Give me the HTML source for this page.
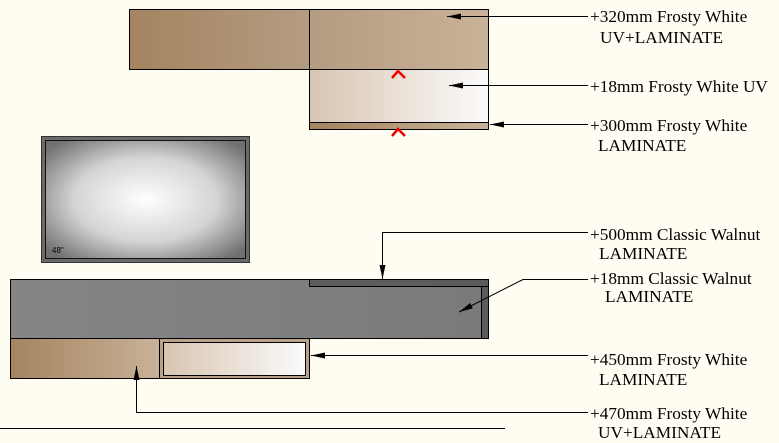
<!DOCTYPE html>
<html><head><meta charset="utf-8"><style>
body{margin:0;background:#fffcf2;}
svg{display:block}
text{font-family:"Liberation Serif",serif;font-size:17.3px;fill:#000}
</style></head><body>
<svg width="779" height="443" viewBox="0 0 779 443" xmlns="http://www.w3.org/2000/svg">
<defs>
<linearGradient id="wal" x1="0" x2="1" y1="0" y2="0"><stop offset="0" stop-color="#a5845f"/><stop offset="1" stop-color="#c8b298"/></linearGradient>
<linearGradient id="wal1" x1="0" x2="1"><stop offset="0" stop-color="#a5845f"/><stop offset="1" stop-color="#b49c82"/></linearGradient>
<linearGradient id="wal2" x1="0" x2="1"><stop offset="0" stop-color="#b49c82"/><stop offset="1" stop-color="#c8b298"/></linearGradient>
<linearGradient id="wht" x1="0" x2="1"><stop offset="0" stop-color="#d8c5b1"/><stop offset="1" stop-color="#fbfbfb"/></linearGradient>
<linearGradient id="gry" x1="0" x2="1"><stop offset="0" stop-color="#858585"/><stop offset="1" stop-color="#7a7a7a"/></linearGradient>
<radialGradient id="tv" cx="0.5" cy="0.5" r="0.65"><stop offset="0" stop-color="#ffffff"/><stop offset="0.55" stop-color="#d4d4d4"/><stop offset="1" stop-color="#707070"/></radialGradient>
<marker id="ar" markerWidth="16" markerHeight="8" refX="14" refY="4" orient="auto" markerUnits="userSpaceOnUse"><path d="M0,1 L14,4 L0,7 Z" fill="#000"/></marker>
</defs>
<rect x="129.5" y="9.5" width="180" height="60" fill="url(#wal1)" stroke="#000"/>
<rect x="309.5" y="9.5" width="179" height="60" fill="url(#wal2)" stroke="#000"/>
<rect x="309.5" y="69.5" width="179" height="53" fill="url(#wht)" stroke="#000"/>
<rect x="309.5" y="122.5" width="179" height="7" fill="url(#wal)" stroke="#000"/>
<path d="M392,78 L398,71 L405,78" stroke="#e00" stroke-width="2.5" fill="none"/>
<path d="M392,136 L398,129 L405,136" stroke="#e00" stroke-width="2.5" fill="none"/>
<rect x="41.5" y="136.5" width="208" height="126" fill="#6a6a6a" stroke="#333"/>
<rect x="45.5" y="140.5" width="200" height="118" fill="url(#tv)" stroke="#111"/>
<text x="52" y="253" style="font-family:'Liberation Sans',sans-serif;font-size:8px">48"</text>
<rect x="10.5" y="279.5" width="478" height="59" fill="url(#gry)" stroke="#000"/>
<rect x="309.5" y="279.5" width="179" height="7" fill="#5c5c5c" stroke="#000"/>
<rect x="481.5" y="286.5" width="7" height="52" fill="#5c5c5c" stroke="#000"/>
<rect x="10.5" y="338.5" width="149" height="40" fill="url(#wal)" stroke="#000"/>
<rect x="159.5" y="338.5" width="150" height="40" fill="#b9a288" stroke="#000"/>
<rect x="163.5" y="342.5" width="142" height="33" fill="url(#wht)" stroke="#000"/>
<line x1="0" y1="428.5" x2="505" y2="428.5" stroke="#000"/>
<g stroke="#000" stroke-width="1" fill="none">
<line x1="588" y1="16.5" x2="447" y2="16.5" marker-end="url(#ar)"/>
<line x1="588" y1="85.5" x2="449" y2="85.5" marker-end="url(#ar)"/>
<line x1="588" y1="124.5" x2="490" y2="124.5" marker-end="url(#ar)"/>
<polyline points="588,232.5 382.5,232.5 382.5,279" marker-end="url(#ar)"/>
<polyline points="588,279.5 523,279.5 459,312" marker-end="url(#ar)"/>
<line x1="588" y1="355.5" x2="311" y2="355.5" marker-end="url(#ar)"/>
<polyline points="588,412.5 136.5,412.5 136.5,366" marker-end="url(#ar)"/>
</g>
<text x="590" y="22">+320mm Frosty White</text>
<text x="600" y="43">UV+LAMINATE</text>
<text x="590" y="92">+18mm Frosty White UV</text>
<text x="590" y="131">+300mm Frosty White</text>
<text x="598" y="151">LAMINATE</text>
<text x="590" y="240">+500mm Classic Walnut</text>
<text x="599" y="259">LAMINATE</text>
<text x="590" y="284">+18mm Classic Walnut</text>
<text x="605" y="302">LAMINATE</text>
<text x="590" y="365">+450mm Frosty White</text>
<text x="599" y="385">LAMINATE</text>
<text x="590" y="419">+470mm Frosty White</text>
<text x="598" y="438">UV+LAMINATE</text>
</svg>
</body></html>
